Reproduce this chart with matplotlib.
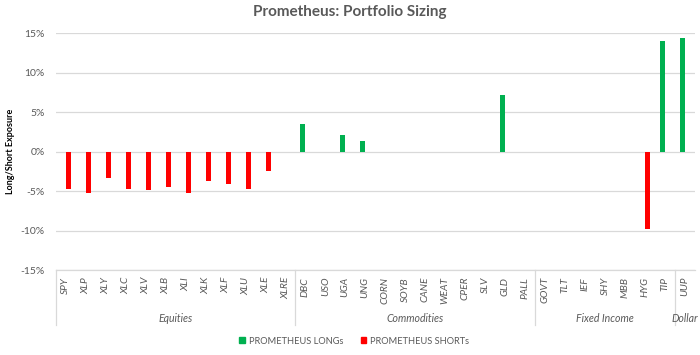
import matplotlib.pyplot as plt
import numpy as np
from matplotlib.patches import Patch

plt.rcParams['font.family'] = ['Lato', 'DejaVu Sans']

# tickers and asset groups
tickers = ['SPY', 'XLP', 'XLY', 'XLC', 'XLV', 'XLB', 'XLI', 'XLK', 'XLF', 'XLU', 'XLE', 'XLRE',
           'DBC', 'USO', 'UGA', 'UNG', 'CORN', 'SOYB', 'CANE', 'WEAT', 'CPER', 'SLV', 'GLD', 'PALL',
           'GOVT', 'TLT', 'IEF', 'SHY', 'MBB', 'HYG', 'TIP',
           'UUP']
groups = ['Equities', 'Commodities', 'Fixed Income', 'Dollar']
group_sizes = [12, 12, 7, 1]

# exposures in %
longs = [0, 0, 0, 0, 0, 0, 0, 0, 0, 0, 0, 0,
         3.5, 0, 2.1, 1.3, 0, 0, 0, 0, 0, 0, 7.1, 0,
         0, 0, 0, 0, 0, 0, 14.0,
         14.4]
shorts = [-4.8, -5.2, -3.4, -4.8, -4.9, -4.5, -5.2, -3.7, -4.1, -4.8, -2.5, 0,
          0, 0, 0, 0, 0, 0, 0, 0, 0, 0, 0, 0,
          0, 0, 0, 0, 0, -9.8, 0,
          0]

green = '#00B050'
red = '#FF0000'
gray = '#595959'

fig = plt.figure(figsize=(7, 3.55), dpi=100)
ax = fig.add_axes([0.0796, 0.2394, 0.913, 0.6676])

x = np.arange(len(tickers))
ax.bar(x - 0.1375, longs, width=0.25, color=green, zorder=3)
ax.bar(x + 0.1375, shorts, width=0.25, color=red, zorder=3)

ax.set_xlim(-0.5, len(tickers) - 0.5)
ax.set_ylim(-15, 15)
ax.set_yticks(np.arange(-15, 16, 5))
ax.set_yticklabels([f'{v}%' for v in range(-15, 16, 5)], color=gray, fontsize=7.5)
ax.grid(axis='y', color='#D9D9D9', linewidth=0.9, zorder=0)
for s in ax.spines.values():
    s.set_visible(False)
ax.tick_params(axis='y', length=0, pad=8)

ax.set_xticks(x)
ax.set_xticklabels(tickers, rotation=90, style='italic', color=gray, fontsize=7.3)
ax.tick_params(axis='x', length=0, pad=5)

# category axis frame with group separators
trans = ax.get_xaxis_transform()
ax.plot([-0.5, len(tickers) - 0.5], [0, 0], transform=trans, color='#D9D9D9',
        linewidth=0.9, clip_on=False)
edges = np.concatenate([[0], np.cumsum(group_sizes)]) - 0.5
for e in edges[:-1]:
    ax.plot([e, e], [0, -0.232], transform=trans, color='#D9D9D9', linewidth=0.9, clip_on=False)
for g, lo, hi in zip(groups, edges[:-1], edges[1:]):
    ax.text((lo + hi) / 2, -0.2025, g, transform=trans, ha='center', va='center',
            style='italic', color=gray, fontsize=7.6)

ax.set_ylabel('Long/Short Exposure', fontsize=6.5, fontweight='bold', color='black')
ax.yaxis.set_label_coords(-0.064, 0.5)

fig.suptitle('Prometheus: Portfolio Sizing', x=0.5, y=0.985, fontsize=11,
             fontweight='bold', color=gray)

handles = [Patch(color=green, label='PROMETHEUS LONGs'),
           Patch(color=red, label='PROMETHEUS SHORTs')]
fig.legend(handles=handles, loc='center', bbox_to_anchor=(0.506, 0.039), ncol=2, frameon=False,
           fontsize=6.7, labelcolor=gray, handlelength=0.6, handleheight=0.6,
           handletextpad=0.4, columnspacing=1.9)

fig.savefig('out.png', dpi=100)
